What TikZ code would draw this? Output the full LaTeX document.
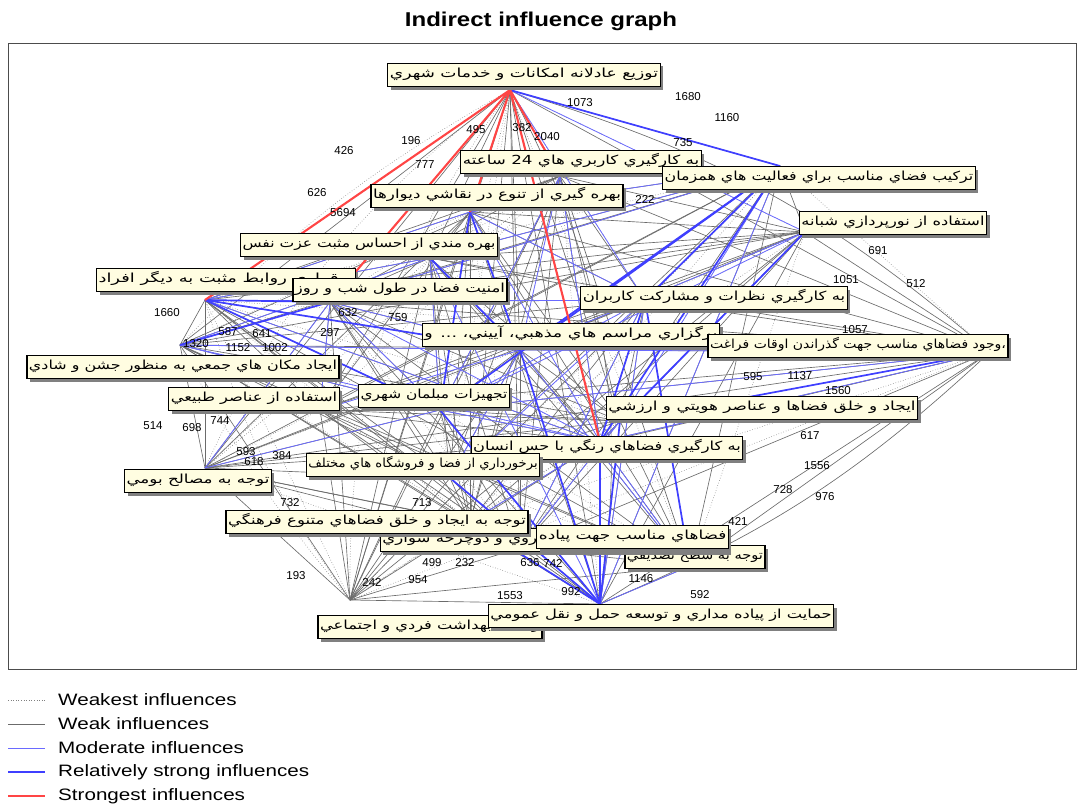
\documentclass[tikz,border=0pt]{standalone}
\usepackage{graphicx}
\usepackage{fontspec}
\usetikzlibrary{shadows}
\TeXXeTstate=1
\setmainfont{Liberation Sans}
\newfontfamily\fafont[Script=Arabic, FakeStretch=1.3]{DejaVu Sans}
\newfontfamily\titlefont{Liberation Sans}[FakeStretch=1.2]
\newfontfamily\legfont{Liberation Sans}[FakeStretch=1.25]
\definecolor{lblfill}{HTML}{FFFDE1}
\definecolor{midblue}{HTML}{6A6AFF}
\definecolor{strongblue}{HTML}{3F3FFF}
\definecolor{strongred}{HTML}{FF4545}

\tikzset{
  var/.style={draw=black, line width=1.2pt, fill=lblfill, inner xsep=2pt, inner ysep=5pt,
    text height=9pt, text depth=4pt,
    font=\fafont\fontsize{12.5}{14}\selectfont,
    drop shadow={shadow xshift=3pt, shadow yshift=-3pt, fill=black!50, opacity=1}},
  weakest/.style={black!50, dotted, line width=0.6pt},
  weak/.style={black!58, line width=0.65pt},
  moderate/.style={midblue, line width=0.8pt},
  strong/.style={strongblue, line width=1.7pt},
  strongest/.style={strongred, line width=2.1pt},
  wt/.style={font=\fontsize{11.5}{12}\selectfont, inner sep=0pt}
}

\begin{document}
\begin{tikzpicture}[x=1pt, y=-1pt]
	\useasboundingbox (0,0) rectangle (1084,808);
	\node[font=\titlefont\bfseries\fontsize{20}{22}\selectfont] (title) at (541,21) {Indirect influence graph};
	\draw[black!70, line width=0.8pt] (8,43) rectangle (1076,669);

	% points where the links of each variable meet
	\foreach \n/\x/\y in {1/510/90, 2/560/176, 3/780/166, 4/470/212, 5/805/232, 6/430/258,
		7/205/300, 8/330/302, 9/645/300, 10/520/350, 11/990/352, 12/180/345, 13/440/410,
		14/320/410, 15/620/421, 16/600/442, 17/450/478, 18/205/468, 19/470/522, 20/520/548,
		21/690/566, 22/600/604, 23/350/600}
		\coordinate (a\n) at (\x,\y);

	% weak and weakest links
	\foreach \i in {1,...,22}{
		\pgfmathtruncatemacro\s{\i+1}
		\foreach \j in {\s,...,23}{
			\pgfmathtruncatemacro\t{mod(\i*5+\j*3,4)}
			\ifnum\t=0 \draw[weakest] (a\i) -- (a\j); \else \draw[weak] (a\i) -- (a\j); \fi
		}}
	\draw[weak] (a1) to[bend left=12] (a11);
	\draw[weak] (a1) to[bend left=18] (a22);
	\draw[weakest] (a1) to[bend right=14] (a18);
	\draw[weakest] (a1) to[bend right=18] (a23);
	\draw[weakest] (a1) to[bend right=8] (a12);
	\draw[weakest] (a23) to[bend left=10] (a7);
	\draw[weakest] (a23) to[bend left=6] (a12);
	\draw[weak] (a11) to[bend left=10] (a22);

	% moderate links
	\foreach \i/\j in {1/5, 1/9, 3/4, 3/6, 3/8, 5/10, 5/13, 11/13, 11/10, 12/13, 14/8, 18/8,
		18/13, 19/16, 20/15, 21/16, 21/10, 22/9, 22/3, 22/6, 2/10, 2/13, 6/13, 8/16, 9/13,
		7/9, 12/10, 5/16, 3/15, 11/16, 17/9, 20/9, 22/21, 14/10, 7/4, 7/6, 7/16, 12/6, 12/16,
		8/10, 8/13, 4/16, 4/9, 2/16, 13/16, 17/16, 17/10}
		\draw[moderate] (a\i) -- (a\j);

	% relatively strong links
	\foreach \i/\j in {1/3, 3/9, 3/10, 3/16, 5/15, 22/16, 22/17, 22/15, 22/13, 22/10, 7/8,
		7/13, 7/10, 6/10, 4/10, 4/13, 9/16, 3/13, 11/15, 21/9, 12/8, 22/19}
		\draw[strong] (a\i) -- (a\j);

	% strongest links
	\foreach \i/\j in {1/7, 1/8, 1/16, 1/2, 1/4}
		\draw[strongest] (a\i) -- (a\j);

	% link values
	\foreach \x/\y/\v [count=\k] in {688/97/1680, 727/118/1160, 580/103/1073, 683/143/735,
		344/151/426, 411/141/196, 476/130/495, 522/128/382, 547/137/2040, 425/165/777,
		317/193/626, 343/213/5694, 645/199/222, 916/284/512, 167/313/1660, 228/332/587,
		196/344/1320, 262/334/641, 238/348/1152, 275/348/1002, 153/426/514, 192/428/698,
		220/421/744, 246/452/593, 810/436/617, 817/466/1556, 783/490/728, 825/497/976,
		738/521/421, 700/595/592, 296/576/193, 372/582/242, 418/580/954, 432/563/499,
		465/563/232, 571/592/992, 800/376/1137, 838/391/1560, 878/251/691, 846/280/1051,
		855/330/1057, 510/596/1553, 530/563/636, 553/563/742, 641/579/1146, 282/456/384,
		254/462/618, 290/503/732, 422/503/713, 753/377/595, 348/313/632, 398/318/759,
		330/333/297}
		\node[wt] (w\k) at (\x,\y) {\v};

	% variables
	\node[var] (v1) at (524,75) {\scalebox{1.055}[1]{\beginR توزيع عادلانه امکانات و خدمات شهري\endR}};
	\node[var] (v2) at (581,162) {\scalebox{1.03}[1]{\beginR به کارگيري کاربري هاي 24 ساعته\endR}};
	\node[var] (v3) at (819,178) {\scalebox{0.975}[1]{\beginR ترکيب فضاي مناسب براي فعاليت هاي همزمان\endR}};
	\node[var] (v4) at (497,196) {\scalebox{1.03}[1]{\beginR بهره گيري از تنوع در نقاشي ديوارها\endR}};
	\node[var] (v5) at (893,223) {\beginR استفاده از نورپردازي شبانه\endR};
	\node[var] (v6) at (369,245) {\scalebox{0.96}[1]{\beginR بهره مندي از احساس مثبت عزت نفس\endR}};
	\node[var] (v7) at (226,280) {\scalebox{1.1}[1]{\beginR برقراري روابط مثبت به ديگر افراد\endR}};
	\node[var] (v8) at (400,290) {\scalebox{1.02}[1]{\beginR امنيت فضا در طول شب و روز\endR}};
	\node[var] (v9) at (714,298) {\scalebox{1.015}[1]{\beginR به کارگيري نظرات و مشارکت کاربران\endR}};
	\node[var] (v10) at (571,335) {\scalebox{1.08}[1]{\beginR برگزاري مراسم هاي مذهبي، آييني، ... و\endR}};
	\node[var] (v11) at (858,346) {\scalebox{0.86}[1]{\beginR ،وجود فضاهاي مناسب جهت گذراندن اوقات فراغت\endR}};
	\node[var] (v12) at (183,367) {\scalebox{0.98}[1]{\beginR ايجاد مکان هاي جمعي به منظور جشن و شادي\endR}};
	\node[var] (v13) at (434,396) {\scalebox{0.95}[1]{\beginR تجهيزات مبلمان شهري\endR}};
	\node[var] (v14) at (254,399) {\beginR استفاده از عناصر طبيعي\endR};
	\node[var] (v15) at (762,408) {\scalebox{1.04}[1]{\beginR ايجاد و خلق فضاها و عناصر هويتي و ارزشي\endR}};
	\node[var] (v16) at (607,448) {\beginR به کارگيري فضاهاي رنگي با حس انسان\endR};
	\node[var] (v17) at (423,465) {\scalebox{0.81}[1]{\beginR برخورداري از فضا و فروشگاه هاي مختلف\endR}};
	\node[var] (v18) at (198,481) {\scalebox{1.03}[1]{\beginR توجه به مصالح بومي\endR}};
	\node[var] (v21) at (695,557) {\scalebox{0.9}[1]{\beginR توجه به سطح تصديقي\endR}};
	\node[var, anchor=east] (v20) at (729,540) {\scalebox{1.02}[1]{\beginR فضاهاي مناسب جهت پياده روي و دوچرخه سواري\endR}};
	\node[var] (v19) at (377,522) {\scalebox{1.02}[1]{\beginR توجه به ايجاد و خلق فضاهاي متنوع فرهنگي\endR}};
	\node[var, anchor=east] (v22) at (729,537) {\scalebox{1.04}[1]{\beginR فضاهاي مناسب جهت پياده\endR}};
	\node[var] (v23) at (430,627) {\beginR رعايت بهداشت فردي و اجتماعي\endR};
	\node[var] (v24) at (661,616) {\beginR حمايت از پياده مداري و توسعه حمل و نقل عمومي\endR};

	% legend
	\foreach \st/\txt [count=\k] in {weakest/Weakest influences, weak/Weak influences,
		moderate/Moderate influences, strong/Relatively strong influences,
		strongest/Strongest influences}{
		\draw[\st] (8,676+24*\k) -- (45,676+24*\k);
		\node[anchor=west, font=\legfont\fontsize{16.5}{18}\selectfont, inner sep=0pt] (leg\k) at (58,676+24*\k) {\txt};
	}
\end{tikzpicture}
\end{document}
